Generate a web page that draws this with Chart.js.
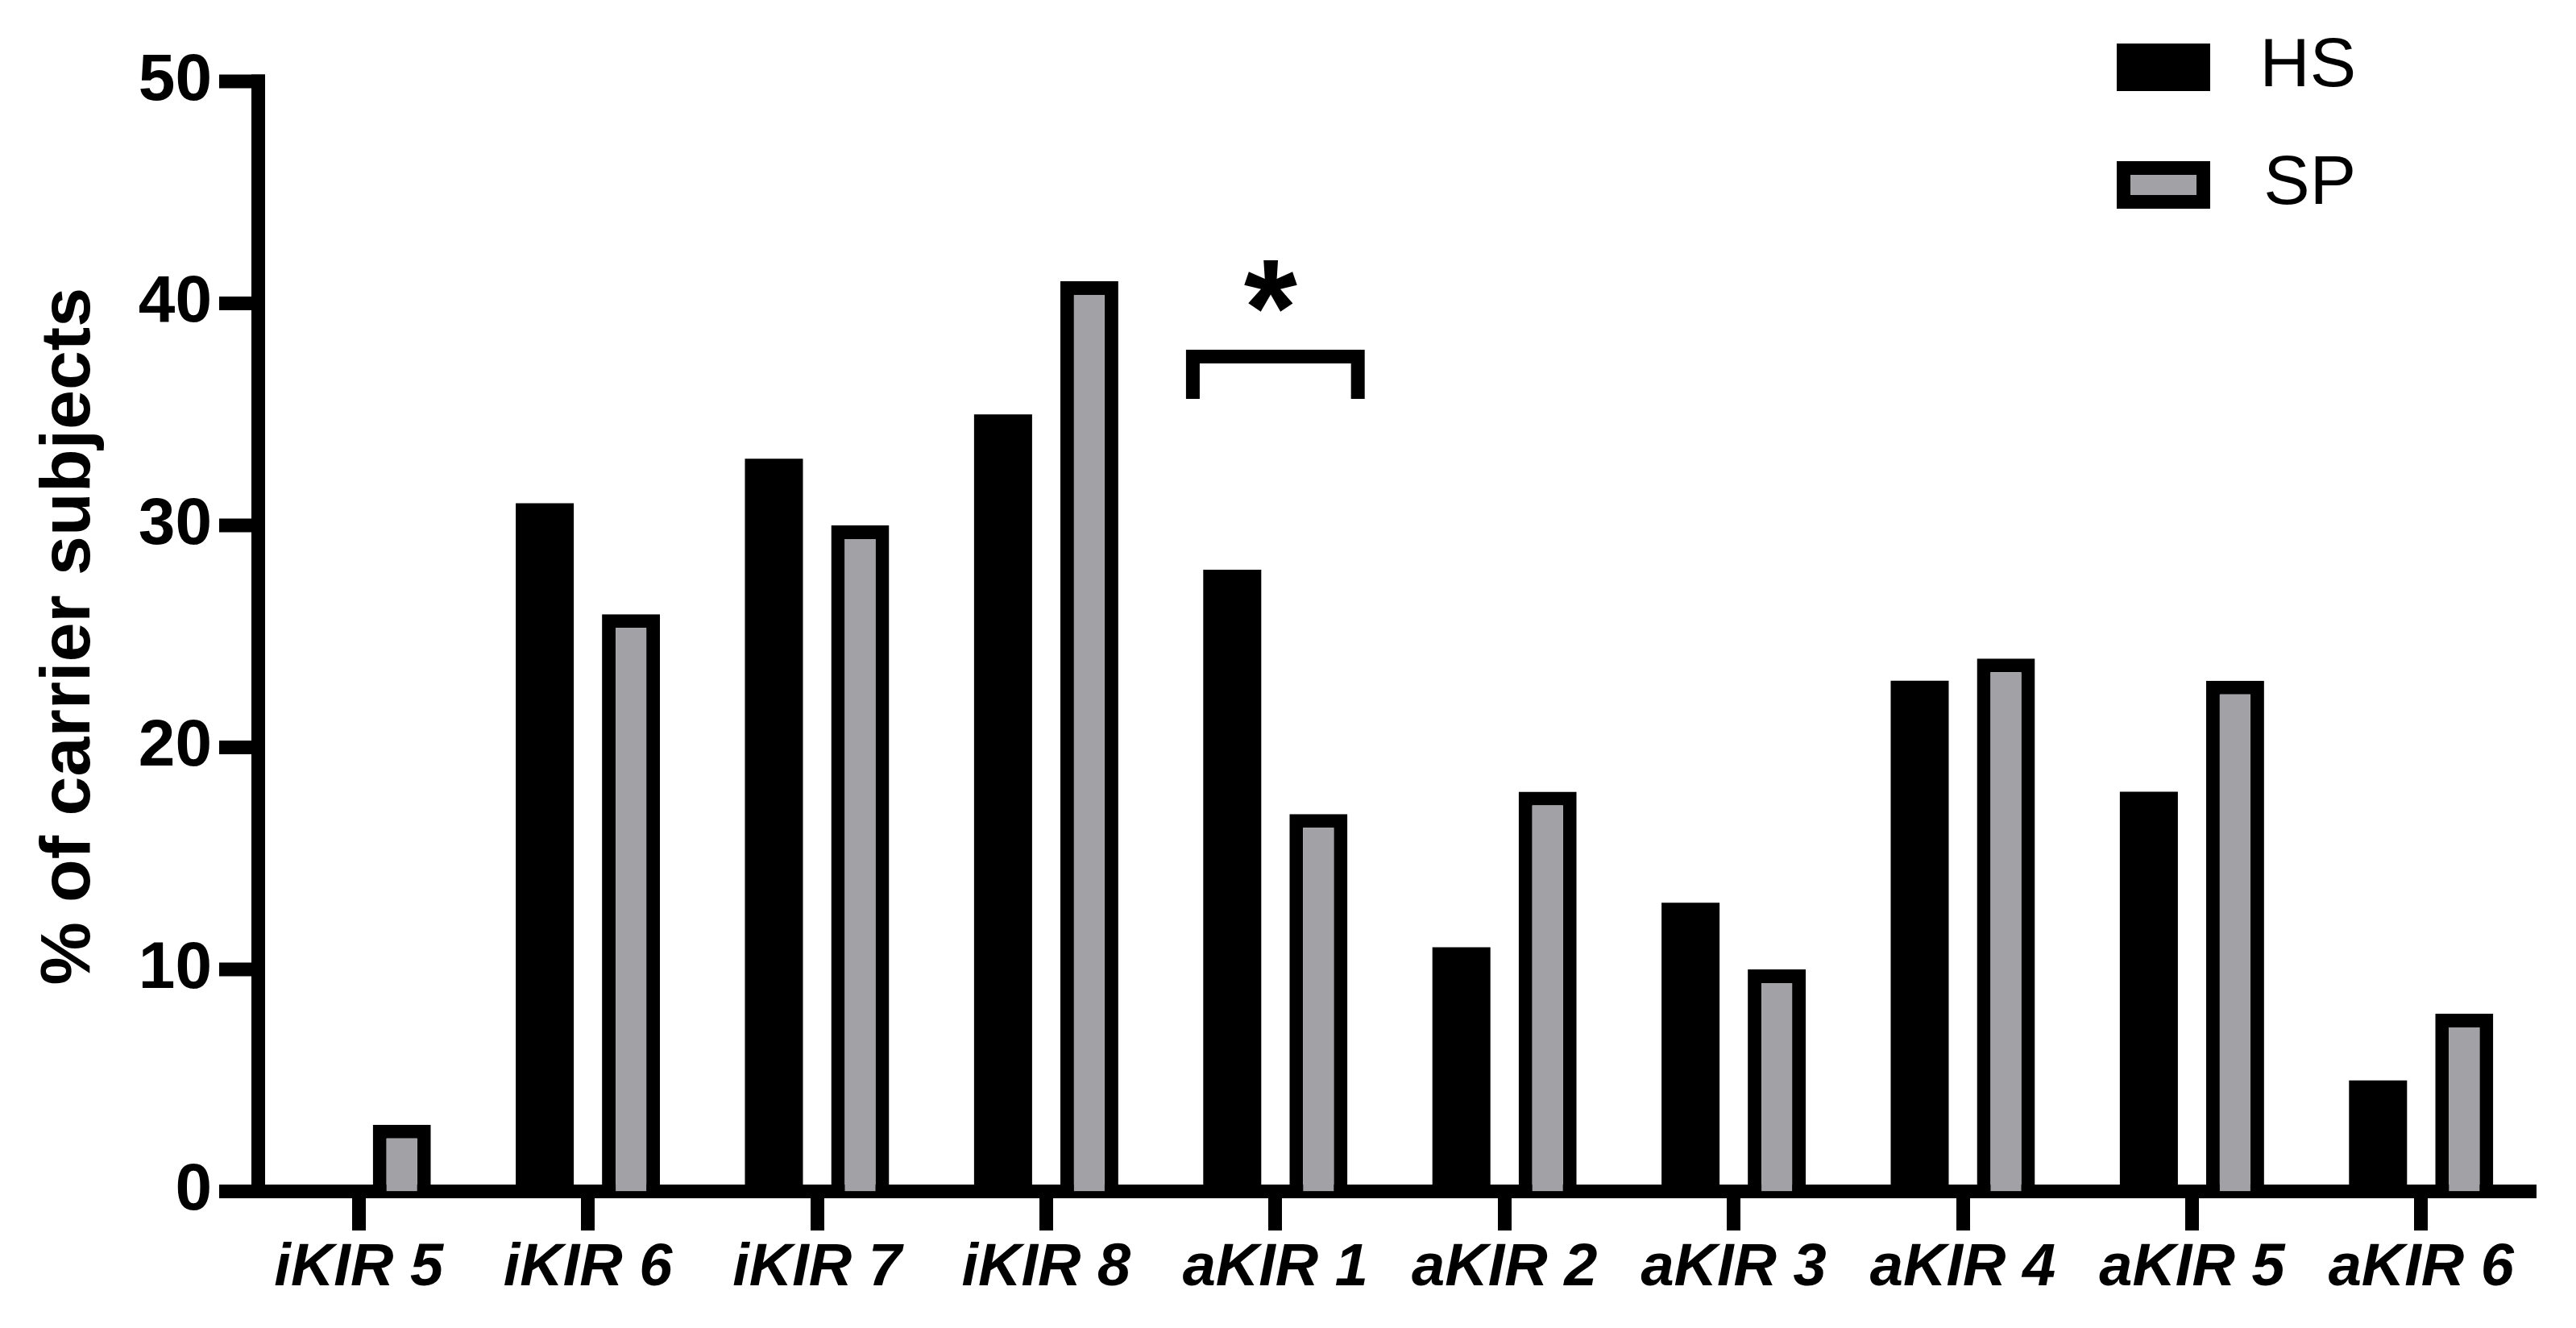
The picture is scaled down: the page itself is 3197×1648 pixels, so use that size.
<!DOCTYPE html>
<html>
<head>
<meta charset="utf-8">
<script src="https://cdn.jsdelivr.net/npm/chart.js@4.4.1/dist/chart.umd.min.js"></script>
<style>
  html, body { margin: 0; padding: 0; background: #ffffff; }
  #wrap { width: 3197px; height: 1648px; }
</style>
</head>
<body>
<div id="wrap"><canvas id="c" width="3197" height="1648"></canvas></div>
<script>
// ---- data ----
const categories = ['iKIR 5', 'iKIR 6', 'iKIR 7', 'iKIR 8', 'aKIR 1', 'aKIR 2', 'aKIR 3', 'aKIR 4', 'aKIR 5', 'aKIR 6'];
const hsValues = [0, 31, 33, 35, 28, 11, 13, 23, 18, 5];
const spValues = [3, 26, 30, 41, 17, 18, 10, 24, 23, 8];
const seriesNames = ['HS', 'SP'];
const yTicks = [0, 10, 20, 30, 40, 50];
const yTitle = '% of carrier subjects';
// significance annotation
const sigCategories = ['aKIR 1'];
const sigLabels = ['*'];
const sigBracketTop = [37.6];
const sigBracketFoot = [35.7];
const sigStarBase = [37.65];

// ---- styles ----
const FONT = '"Liberation Sans", Arial, Helvetica, sans-serif';
const BLACK = '#000000';
const GRAY = '#a2a1a6';
const LINE = 17;

const axisPlugin = {
  id: 'prismYAxis',
  afterDatasetsDraw(chart) {
    const { ctx, chartArea } = chart;
    const y = chart.scales.y;
    const axisX = chartArea.left + 17.5;
    const tickOut = 48.5;
    const topPx = y.getPixelForValue(y.max);
    ctx.save();
    ctx.fillStyle = BLACK;
    ctx.fillRect(axisX - LINE / 2, topPx - LINE / 2, LINE, chartArea.bottom + LINE / 2 - (topPx - LINE / 2));
    y.ticks.forEach(t => {
      const py = y.getPixelForValue(t.value);
      ctx.fillRect(axisX - tickOut, py - LINE / 2, tickOut + LINE / 2, LINE);
    });
    ctx.restore();
  }
};

const legendPlacePlugin = {
  id: 'legendPlace',
  afterLayout(chart) {
    const lg = chart.legend;
    const ca = chart.chartArea;
    if (!lg) return;
    lg.left = ca.right - 571.5;
    lg.right = ca.right - 223;
    lg.top = ca.top - 120.5;
  }
};

const sigPlugin = {
  id: 'sigBracket',
  afterDatasetsDraw(chart) {
    const { ctx } = chart;
    const x = chart.scales.x, y = chart.scales.y;
    const catW = x.width / categories.length;
    sigCategories.forEach((cat, i) => {
      const cx = x.getPixelForValue(categories.indexOf(cat));
      const half = catW * 0.36;
      const yTop = y.getPixelForValue(sigBracketTop[i]);
      const yFoot = y.getPixelForValue(sigBracketFoot[i]);
      ctx.save();
      ctx.strokeStyle = BLACK;
      ctx.lineWidth = LINE;
      ctx.lineCap = 'butt';
      ctx.lineJoin = 'miter';
      ctx.beginPath();
      ctx.moveTo(cx - half, yFoot);
      ctx.lineTo(cx - half, yTop);
      ctx.lineTo(cx + half, yTop);
      ctx.lineTo(cx + half, yFoot);
      ctx.stroke();
      ctx.fillStyle = BLACK;
      ctx.font = 'bold 170px ' + FONT;
      ctx.textAlign = 'center';
      ctx.textBaseline = 'alphabetic';
      ctx.fillText(sigLabels[i], cx - 6, y.getPixelForValue(sigStarBase[i]));
      ctx.restore();
    });
  }
};

new Chart(document.getElementById('c'), {
  type: 'bar',
  data: {
    labels: categories,
    datasets: [
      { label: seriesNames[0], data: hsValues, backgroundColor: BLACK, borderColor: BLACK, borderWidth: 0 },
      { label: seriesNames[1], data: spValues, backgroundColor: GRAY, borderColor: BLACK, borderWidth: LINE, borderSkipped: 'start' }
    ]
  },
  options: {
    responsive: false,
    animation: false,
    devicePixelRatio: 1,
    layout: { padding: { left: 0, top: 101, right: 50, bottom: 0 } },
    datasets: { bar: { categoryPercentage: 0.7525, barPercentage: 0.673 } },
    plugins: {
      legend: {
        position: 'chartArea',
        align: 'start',
        labels: {
          boxWidth: 99, boxHeight: 42, padding: 60, color: BLACK, textAlign: 'right',
          font: { family: FONT, size: 86, weight: 'normal' },
          generateLabels: chart => Chart.defaults.plugins.legend.labels.generateLabels(chart)
            .map(item => Object.assign(item, { lineWidth: LINE, strokeStyle: BLACK }))
        }
      },
      tooltip: { enabled: false },
      title: { display: false }
    },
    scales: {
      x: {
        type: 'category',
        offset: true,
        z: 1,
        grid: { display: true, drawOnChartArea: false, drawTicks: true, tickLength: 48.5, tickWidth: LINE, tickColor: BLACK, offset: false },
        border: { display: true, color: BLACK, width: LINE },
        ticks: { color: BLACK, padding: 3, maxRotation: 0, minRotation: 0, autoSkip: false,
                 font: { family: FONT, size: 74, weight: 'bold', style: 'italic' } },
        afterFit: s => { s.height = 169.5; }
      },
      y: {
        min: 0, max: 50,
        afterBuildTicks: s => { s.ticks = yTicks.map(v => ({ value: v })); },
        grid: { display: false, drawTicks: false },
        border: { display: false },
        ticks: { color: BLACK, padding: 40, font: { family: FONT, size: 82, weight: 'bold' } },
        title: { display: true, text: yTitle, color: BLACK, padding: { top: 34, bottom: 0 },
                 font: { family: FONT, size: 88, weight: 'bold' } },
        afterFit: s => { s.width = 303; }
      }
    }
  },
  plugins: [axisPlugin, legendPlacePlugin, sigPlugin]
});
</script>
</body>
</html>
